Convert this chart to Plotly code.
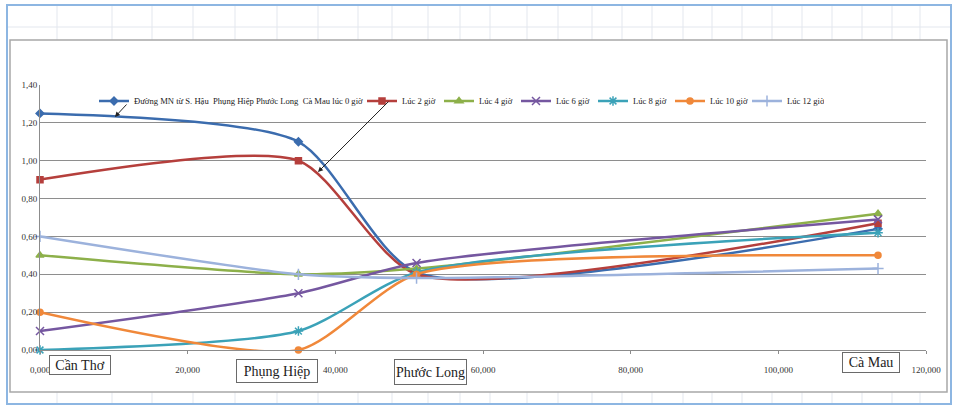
import plotly.graph_objects as go

# ---------------- data ----------------
distance = [0, 35000, 51000, 113500]
stations = ["Cần Thơ", "Phụng Hiệp", "Phước Long", "Cà Mau"]

h0 = [1.25, 1.10, 0.41, 0.64]
h2 = [0.90, 1.00, 0.40, 0.67]
h4 = [0.50, 0.40, 0.43, 0.72]
h6 = [0.10, 0.30, 0.46, 0.69]
h8 = [0.00, 0.10, 0.41, 0.62]
h10 = [0.20, 0.00, 0.40, 0.50]
h12 = [0.60, 0.40, 0.38, 0.43]

series_names = [
    "Đường MN từ S. Hậu  Phụng Hiệp Phước Long  Cà Mau lúc 0 giờ",
    "Lúc 2 giờ", "Lúc 4 giờ", "Lúc 6 giờ", "Lúc 8 giờ", "Lúc 10 giờ", "Lúc 12 giờ",
]
series_values = [h0, h2, h4, h6, h8, h10, h12]

y_ticks = [0.0, 0.2, 0.4, 0.6, 0.8, 1.0, 1.2, 1.4]
y_labels = ["0,00", "0,20", "0,40", "0,60", "0,80", "1,00", "1,20", "1,40"]
x_ticks = [0, 20000, 40000, 60000, 80000, 100000, 120000]
x_labels = ["0,000", "20,000", "40,000", "60,000", "80,000", "100,000", "120,000"]

# ---------------- styles / layout helpers ----------------
colors = ["#3B6CAE", "#B53F3C", "#8DB04A", "#7557A0", "#3BA2B8", "#F0883A", "#9CB2DC"]
symbols = ["diamond", "square", "triangle-up", "x-thin-open", "asterisk-open", "circle", "cross-thin-open"]
msizes = [6, 6, 7, 8, 8, 6, 8]

W, H = 953, 406
L, R, T, B = 40, 27, 85, 56
PW, PH = W - L - R, H - T - B


def fx(px):
    return (px - L) / PW


def fy(py):
    return (H - B - py) / PH


FONT = "Liberation Serif"

fig = go.Figure()
for i, (name, vals) in enumerate(zip(series_names, series_values)):
    fig.add_trace(go.Scatter(
        x=distance, y=vals, name=name, mode="lines+markers",
        line=dict(color=colors[i], width=2.5, shape="spline", smoothing=0.67),
        marker=dict(symbol=symbols[i], size=msizes[i], color=colors[i],
                    line=dict(color=colors[i], width=1.5)),
        cliponaxis=False,
        legend="legend" if i == 0 else "legend2",
    ))

shapes = []
# spreadsheet background grid
grid_cols = [57, 112, 152, 193, 235, 277, 318, 358, 392, 428, 460, 490, 527, 558, 592,
             622, 652, 683, 712, 742, 772, 802, 832, 862, 892, 920]
for c in grid_cols:
    for (ya, yb) in [(6, 40), (392, 403)]:
        shapes.append(dict(type="line", xref="paper", yref="paper", layer="below",
                           x0=fx(c), x1=fx(c), y0=fy(ya), y1=fy(yb),
                           line=dict(color="#E3E7EE", width=1)))
shapes.append(dict(type="line", xref="paper", yref="paper", layer="below",
                   x0=fx(8), x1=fx(950), y0=fy(27), y1=fy(27),
                   line=dict(color="#E3E7EE", width=1)))
# chart area
shapes.append(dict(type="rect", xref="paper", yref="paper", layer="below",
                   x0=fx(10), x1=fx(947), y0=fy(392), y1=fy(40),
                   fillcolor="white", line=dict(color="#A8A8A8", width=1.5)))
# outer frame
shapes.append(dict(type="rect", xref="paper", yref="paper", layer="below",
                   x0=fx(7), x1=fx(951), y0=fy(404), y1=fy(5),
                   fillcolor="rgba(0,0,0,0)", line=dict(color="#8DB6E2", width=2)))

annotations = []
box_geom = [(80, 365, 60, 18), (277, 371, 80, 22), (430, 372, 71, 24), (871, 362, 56, 19)]
for name, (cx, cy, bw, bh) in zip(stations, box_geom):
    annotations.append(dict(
        xref="paper", yref="paper", x=fx(cx), y=fy(cy), text=name, showarrow=False,
        xanchor="center", yanchor="middle", width=bw, height=bh,
        bordercolor="#6A6A6A", borderwidth=1, bgcolor="white", borderpad=0,
        font=dict(family=FONT, size=14, color="#222")))

# pointer arrows from legend to curves
annotations.append(dict(x=10150, y=1.231, xref="x", yref="y", text="", showarrow=True,
                        ax=13, ay=-14, arrowhead=2, arrowsize=1, arrowwidth=1, arrowcolor="#222"))
annotations.append(dict(x=37650, y=0.940, xref="x", yref="y", text="", showarrow=True,
                        ax=72, ay=-72, arrowhead=2, arrowsize=1, arrowwidth=1, arrowcolor="#222"))

fig.update_layout(
    width=W, height=H,
    margin=dict(l=L, r=R, t=T, b=B),
    paper_bgcolor="white", plot_bgcolor="rgba(0,0,0,0)",
    font=dict(family=FONT, size=9, color="#333"),
    shapes=shapes, annotations=annotations,
    legend=dict(orientation="h", x=fx(94), y=fy(101), xanchor="left", yanchor="middle",
                xref="paper", yref="paper", bgcolor="rgba(0,0,0,0)",
                font=dict(family=FONT, size=8.6, color="#222"), itemwidth=30),
    legend2=dict(orientation="h", x=fx(362), y=fy(101), xanchor="left", yanchor="middle",
                 xref="paper", yref="paper", bgcolor="rgba(0,0,0,0)", entrywidth=32,
                 font=dict(family=FONT, size=8.6, color="#222"), itemwidth=30),
    xaxis=dict(range=[0, 120000], tickvals=x_ticks, ticktext=x_labels,
               showgrid=False, zeroline=False, showline=True, linecolor="#8C8C8C", linewidth=1,
               ticks="outside", ticklen=3, tickcolor="#8C8C8C", ticklabelstandoff=8,
               tickfont=dict(family=FONT, size=9, color="#333")),
    yaxis=dict(range=[0, 1.4], tickvals=y_ticks, ticktext=y_labels,
               showgrid=True, gridcolor="#8E8E8E", gridwidth=1, zeroline=False,
               showline=True, linecolor="#8C8C8C", linewidth=1, ticks="",
               tickfont=dict(family=FONT, size=9, color="#333")),
    showlegend=True,
)

fig.write_html(
    "out.html",
    config={"displayModeBar": False},
    post_script="document.body.style.margin='0';document.body.style.overflow='hidden';",
)
